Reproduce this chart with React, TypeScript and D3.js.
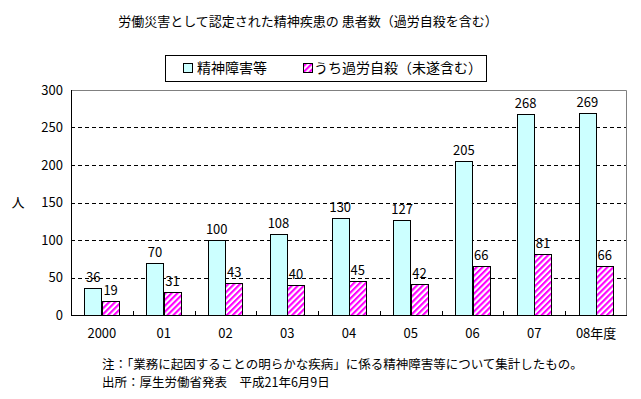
import React from 'react';
import {scaleBand, scaleLinear} from 'd3';

const title = '労働災害として認定された精神疾患の 患者数（過労自殺を含む）';
const categories = ['2000', '01', '02', '03', '04', '05', '06', '07', '08年度'];
const seriesNames = ['精神障害等', 'うち過労自殺（未遂含む）'];
const mentalDisorders = [36, 70, 100, 108, 130, 127, 205, 268, 269];
const suicides = [19, 31, 43, 40, 45, 42, 66, 81, 66];
const yTicks = [0, 50, 100, 150, 200, 250, 300];
const yLabel = '人';
const notes = [
	'注：「業務に起因することの明らかな疾病」に係る精神障害等について集計したもの。',
	'出所：厚生労働省発表　平成21年6月9日'
];

const font = '"Noto Sans CJK JP", "Noto Sans", sans-serif';
const cyan = '#ccffff';
const magenta = '#ff00ff';

//plot frame
const plot = {l: 71, r: 627, t: 90, b: 315};

const scaleX = scaleBand<string>()
	.domain(categories)
	.range([plot.l, plot.r])
	.padding(0);

const scaleSeries = scaleBand<number>()
	.domain([0, 1])
	.range([0, scaleX.bandwidth()])
	.paddingInner(0)
	.paddingOuter(0.77);

const scaleY = scaleLinear()
	.domain([0, 300])
	.range([plot.b, plot.t]);

const series = [mentalDisorders, suicides];
const fills = [cyan, 'url(#hatch)'];

export default function App(){

	const bw = scaleSeries.bandwidth();

	return (
		<svg width={641} height={399} style={{position: 'absolute', left: 0, top: 0, background: '#fff'}} fontFamily={font}>
			<defs>
				<pattern id='hatch' width={4.2} height={4.2} patternUnits='userSpaceOnUse' patternTransform='rotate(45)'>
					<rect width={4.2} height={4.2} fill='#fff'/>
					<rect width={2.1} height={4.2} fill={magenta}/>
				</pattern>
			</defs>

			<text x={308} y={26} fontSize={13} textAnchor='middle' fill='#000'>{title}</text>

			{/* legend */}
			<g>
				<rect x={165.5} y={55.5} width={321} height={26} fill='#fff' stroke='#000'/>
				<rect x={183.5} y={63.5} width={9} height={9} fill={cyan} stroke='#000'/>
				<text x={197} y={73} fontSize={14}>{seriesNames[0]}</text>
				<rect x={303.5} y={63.5} width={9} height={9} fill='url(#hatch)' stroke='#000'/>
				<text x={314} y={73} fontSize={14}>{seriesNames[1]}</text>
			</g>

			{/* gridlines */}
			{yTicks.filter(t => t > 0 && t < 300).map(t =>
				<line key={t} x1={plot.l} x2={plot.r} y1={Math.round(scaleY(t)) + 0.5} y2={Math.round(scaleY(t)) + 0.5}
					stroke='#000' strokeDasharray='4,3'/>
			)}
			<path d={`M${plot.l},${plot.t + 0.5}H${plot.r - 0.5}V${plot.b}`} fill='none' stroke='#808080'/>

			{/* bars */}
			{series.map((vals, si) => vals.map((v, i) => {
				const x = scaleX(categories[i])! + scaleSeries(si)!;
				const y = scaleY(v);
				return (
					<g key={`${si}-${i}`}>
						<rect x={Math.round(x) + 0.5} y={Math.round(y) + 0.5} width={Math.round(bw)} height={plot.b - Math.round(y)}
							fill={fills[si]} stroke='#000'/>
						<text x={x + bw / 2} y={y - 6} fontSize={13} textAnchor='middle'>{v}</text>
					</g>
				);
			}))}

			{/* axes */}
			<line x1={plot.l + 0.5} x2={plot.l + 0.5} y1={plot.t} y2={plot.b + 1} stroke='#000'/>
			<line x1={plot.l} x2={plot.r} y1={plot.b + 0.5} y2={plot.b + 0.5} stroke='#000'/>
			{categories.slice(1).map(c =>
				<line key={c} x1={Math.round(scaleX(c)!) + 0.5} x2={Math.round(scaleX(c)!) + 0.5} y1={plot.b} y2={plot.b - 4} stroke='#000'/>
			)}
			{categories.map(c =>
				<text key={c} x={scaleX(c)! + scaleX.bandwidth() / 2} y={338} fontSize={13} textAnchor='middle'>{c}</text>
			)}
			{yTicks.map(t =>
				<text key={t} x={63} y={scaleY(t) + 4.5} fontSize={13} textAnchor='end'>{t}</text>
			)}
			<text x={18} y={207} fontSize={13} textAnchor='middle'>{yLabel}</text>

			{notes.map((n, i) =>
				<text key={i} x={102} y={369 + i * 18} fontSize={12.5}>{n}</text>
			)}
		</svg>
	);
}
